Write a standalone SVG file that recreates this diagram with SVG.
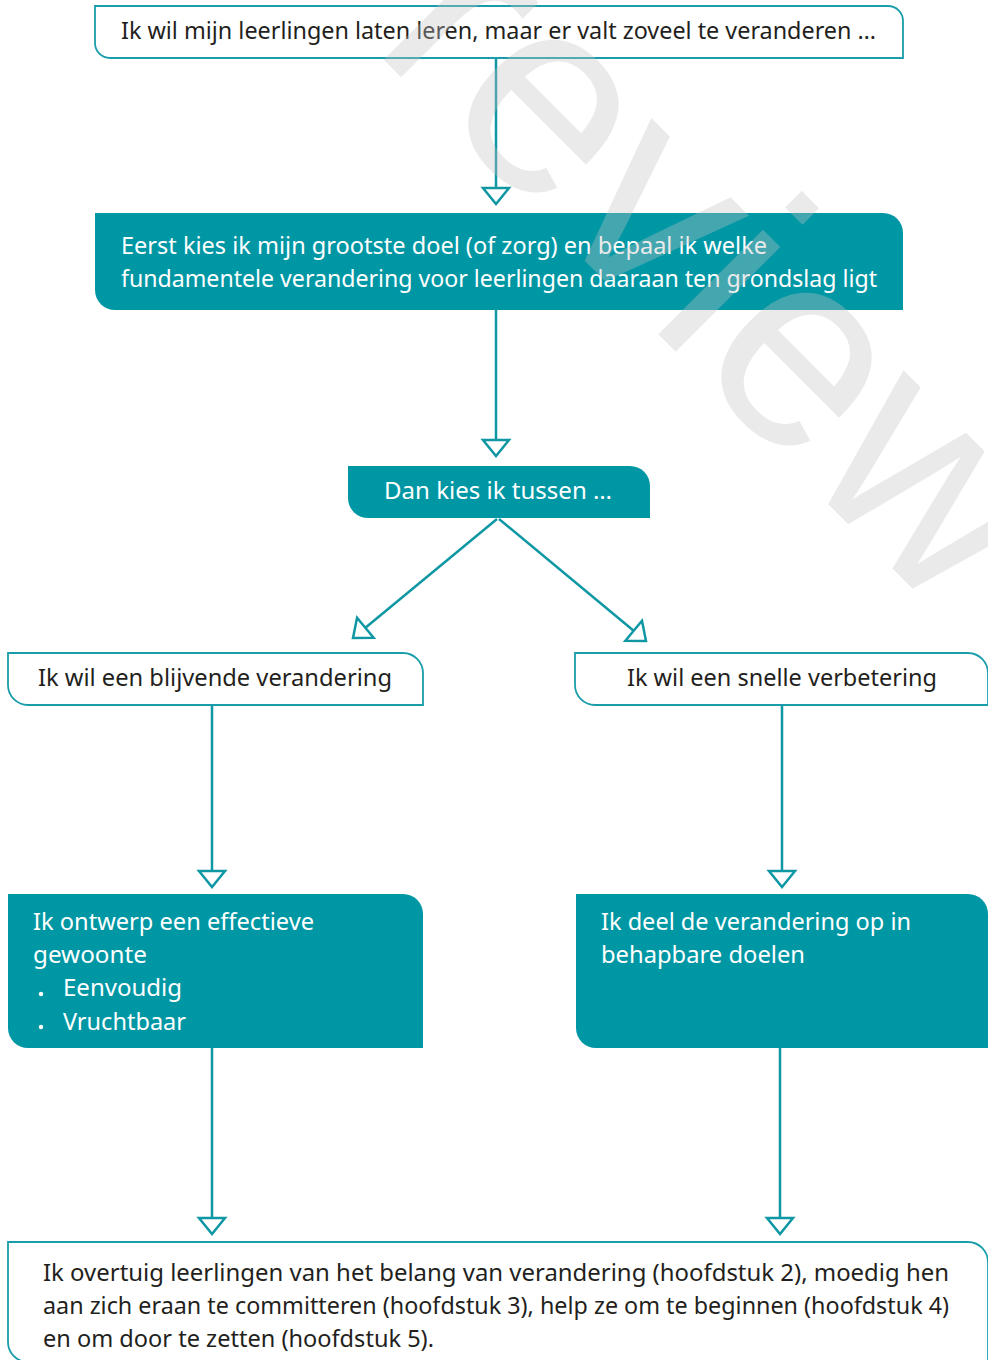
<svg xmlns="http://www.w3.org/2000/svg" width="988" height="1360" viewBox="0 0 988 1360">
<style>
.outline{fill:#ffffff;stroke:#1a9dab;stroke-width:1.8}
.solid{fill:#0097a5}
.dark{font-family:"Noto Sans","Open Sans","Liberation Sans",sans-serif;font-size:24px;fill:#231f20}
.light{font-family:"Noto Sans","Open Sans","Liberation Sans",sans-serif;font-size:24px;fill:#ffffff}
.conn{stroke:#0f97a4;stroke-width:2.5;fill:none}
.wm{font-family:"Liberation Sans",Arial,sans-serif;font-size:280px;fill:#c4c4c4;fill-opacity:0.35}
</style>
<defs>
<marker id="arr" markerUnits="userSpaceOnUse" viewBox="-3 -17 22 34" markerWidth="22" markerHeight="34" refX="16" refY="0" orient="auto">
<path d="M0,-13 L16,0 L0,13 Z" fill="#ffffff" stroke="#0f97a4" stroke-width="2.5" stroke-linejoin="miter"/>
</marker>
</defs>
<rect width="988" height="1360" fill="#ffffff"/>
<g id="connectors">
<line class="conn" x1="496" y1="58" x2="496" y2="204" marker-end="url(#arr)"/>
<line class="conn" x1="496" y1="310" x2="496" y2="456" marker-end="url(#arr)"/>
<line class="conn" x1="497" y1="519" x2="353" y2="638" marker-end="url(#arr)"/>
<line class="conn" x1="499" y1="519" x2="646" y2="641" marker-end="url(#arr)"/>
<line class="conn" x1="212" y1="705" x2="212" y2="887" marker-end="url(#arr)"/>
<line class="conn" x1="782" y1="705" x2="782" y2="887" marker-end="url(#arr)"/>
<line class="conn" x1="212" y1="1048" x2="212" y2="1234" marker-end="url(#arr)"/>
<line class="conn" x1="780" y1="1048" x2="780" y2="1234" marker-end="url(#arr)"/>
</g>
<g id="n1">
<path class="outline" d="M95,6 H888 A15,15 0 0 1 903,21 V58 H110 A15,15 0 0 1 95,43 Z"/>
<text class="dark" x="121" y="39" textLength="755" lengthAdjust="spacingAndGlyphs">Ik wil mijn leerlingen laten leren, maar er valt zoveel te veranderen …</text>
</g>
<g id="n2">
<path class="solid" d="M95,213 H883 A20,20 0 0 1 903,233 V310 H115 A20,20 0 0 1 95,290 Z"/>
<text class="light" x="121" y="254" textLength="646" lengthAdjust="spacingAndGlyphs">Eerst kies ik mijn grootste doel (of zorg) en bepaal ik welke</text>
<text class="light" x="121" y="287" textLength="756" lengthAdjust="spacingAndGlyphs">fundamentele verandering voor leerlingen daaraan ten grondslag ligt</text>
</g>
<g id="n3">
<path class="solid" d="M348,466 H630 A20,20 0 0 1 650,486 V518 H368 A20,20 0 0 1 348,498 Z"/>
<text class="light" x="384" y="499" textLength="228" lengthAdjust="spacingAndGlyphs">Dan kies ik tussen …</text>
</g>
<g id="n4">
<path class="outline" d="M8,653 H403 A20,20 0 0 1 423,673 V705 H28 A20,20 0 0 1 8,685 Z"/>
<text class="dark" x="38" y="686" textLength="354" lengthAdjust="spacingAndGlyphs">Ik wil een blijvende verandering</text>
</g>
<g id="n5">
<path class="outline" d="M575,653 H968 A20,20 0 0 1 988,673 V705 H595 A20,20 0 0 1 575,685 Z"/>
<text class="dark" x="627" y="686" textLength="310" lengthAdjust="spacingAndGlyphs">Ik wil een snelle verbetering</text>
</g>
<g id="n6">
<path class="solid" d="M8,894 H403 A20,20 0 0 1 423,914 V1048 H28 A20,20 0 0 1 8,1028 Z"/>
<text class="light" x="33" y="930" textLength="281" lengthAdjust="spacingAndGlyphs">Ik ontwerp een effectieve</text>
<text class="light" x="33" y="963" textLength="114" lengthAdjust="spacingAndGlyphs">gewoonte</text>
<circle cx="41" cy="994" r="2.2" fill="#ffffff"/>
<text class="light" x="63" y="996" textLength="119" lengthAdjust="spacingAndGlyphs">Eenvoudig</text>
<circle cx="41" cy="1027" r="2.2" fill="#ffffff"/>
<text class="light" x="63" y="1030" textLength="123" lengthAdjust="spacingAndGlyphs">Vruchtbaar</text>
</g>
<g id="n7">
<path class="solid" d="M576,894 H968 A20,20 0 0 1 988,914 V1048 H596 A20,20 0 0 1 576,1028 Z"/>
<text class="light" x="601" y="930" textLength="310" lengthAdjust="spacingAndGlyphs">Ik deel de verandering op in</text>
<text class="light" x="601" y="963" textLength="204" lengthAdjust="spacingAndGlyphs">behapbare doelen</text>
</g>
<g id="n8">
<path class="outline" d="M8,1242 H968 A20,20 0 0 1 988,1262 V1362 H28 A20,20 0 0 1 8,1342 Z"/>
<text class="dark" x="43" y="1281" textLength="906" lengthAdjust="spacingAndGlyphs">Ik overtuig leerlingen van het belang van verandering (hoofdstuk 2), moedig hen</text>
<text class="dark" x="43" y="1314" textLength="906" lengthAdjust="spacingAndGlyphs">aan zich eraan te committeren (hoofdstuk 3), help ze om te beginnen (hoofdstuk 4)</text>
<text class="dark" x="43" y="1347" textLength="391" lengthAdjust="spacingAndGlyphs">en om door te zetten (hoofdstuk 5).</text>
</g>
<text class="wm" transform="translate(370,46) rotate(45)">review</text>
</svg>
